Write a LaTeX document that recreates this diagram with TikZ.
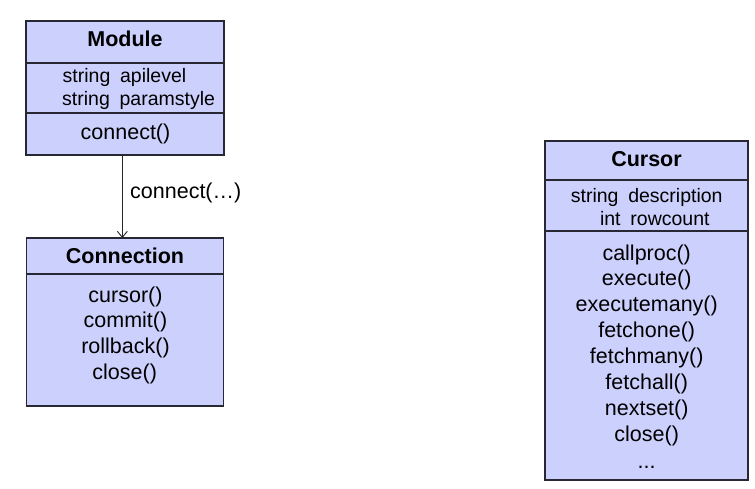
\documentclass[tikz,border=0pt]{standalone}
\usepackage{fontspec}
\setmainfont{Liberation Sans}
\usetikzlibrary{arrows.meta}
\definecolor{boxfill}{RGB}{204,208,252}
\definecolor{boxline}{RGB}{40,40,52}
\begin{document}
\begin{tikzpicture}[x=1pt,y=-1pt,
  classbox/.style={draw=boxline, line width=1.4pt, fill=boxfill, rectangle, inner sep=0pt, outer sep=0pt},
  sepline/.style={draw=boxline, line width=1.2pt},
  txt/.style={inner sep=0pt, text height=0.75em, text depth=0.25em, yshift=-4.5pt},
  title/.style={txt, font=\fontsize{21.5}{26}\selectfont\bfseries},
  attr/.style={txt, font=\fontsize{19.5}{24}\selectfont},
  meth/.style={txt, font=\fontsize{21.5}{26}\selectfont},
  flow/.style={draw=black!85, line width=0.9pt, -{Straight Barb[length=6pt,width=10pt]}}
]
\useasboundingbox[fill=white] (0,0) rectangle (755,488);

% Module
\node[classbox, minimum width=198pt, minimum height=134pt] (module) at (125,88) {};
\draw[sepline] ([yshift=-42pt]module.north west) -- ([yshift=-42pt]module.north east);
\draw[sepline] ([yshift=-92pt]module.north west) -- ([yshift=-92pt]module.north east);
\node[title] (modT) at (125,39.5) {Module};
\node[attr, anchor=west] (modA1) at (62.5,75) {string\hspace{0.5em}apilevel};
\node[attr, anchor=west] (modA2) at (62,98) {string\hspace{0.5em}paramstyle};
\node[meth] (modM1) at (125.5,132) {connect()};

% Connection
\node[classbox, minimum width=197.5pt, minimum height=168pt] (connection) at (125,322) {};
\draw[sepline] ([yshift=-36pt]connection.north west) -- ([yshift=-36pt]connection.north east);
\node[title] (conT) at (125,256.5) {Connection};
\node[meth] (conM1) at (125.5,295) {cursor()};
\node[meth] (conM2) at (125.5,320.5) {commit()};
\node[meth] (conM3) at (125.5,346.5) {rollback()};
\node[meth] (conM4) at (124.7,372.5) {close()};

% Arrow
\draw[flow] ([xshift=-2.7pt]module.south) -- ([xshift=-2.7pt]connection.north);
\node[meth, anchor=west] (lbl) at (130,191.5) {connect(…)};

% Cursor
\node[classbox, minimum width=203pt, minimum height=339pt] (cursor) at (646.5,310.5) {};
\draw[sepline] ([yshift=-39pt]cursor.north west) -- ([yshift=-39pt]cursor.north east);
\draw[sepline] ([yshift=-90pt]cursor.north west) -- ([yshift=-90pt]cursor.north east);
\node[title] (curT) at (646.5,159.5) {Cursor};
\node[attr] (curA1) at (646.7,195) {string\hspace{0.5em}description};
\node[attr] (curA2) at (654.8,218) {int\hspace{0.5em}rowcount};
\node[meth] (curM1) at (646.7,253) {callproc()};
\node[meth] (curM2) at (646.7,278.5) {execute()};
\node[meth] (curM3) at (646.7,304.5) {executemany()};
\node[meth] (curM4) at (646.7,330.5) {fetchone()};
\node[meth] (curM5) at (646.7,356.5) {fetchmany()};
\node[meth] (curM6) at (646.7,382) {fetchall()};
\node[meth] (curM7) at (646.7,408) {nextset()};
\node[meth] (curM8) at (646.7,434.5) {close()};
\node[meth] (curM9) at (646.7,461) {...};
\end{tikzpicture}
\end{document}
